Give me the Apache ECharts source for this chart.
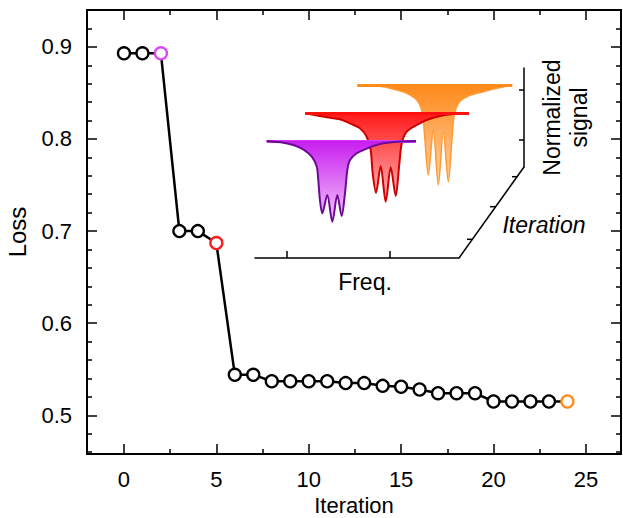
<!DOCTYPE html>
<html>
<head>
<meta charset="utf-8">
<script src="https://cdn.jsdelivr.net/npm/echarts@6/dist/echarts.min.js"></script>
<style>
  html, body { margin: 0; padding: 0; background: #fff; }
  #chart { width: 623px; height: 518px; }
</style>
</head>
<body>
<div id="chart"></div>
<script>
// main curve: loss per iteration
const iterations = [0, 1, 2, 3, 4, 5, 6, 7, 8, 9, 10, 11, 12, 13, 14, 15, 16, 17, 18, 19, 20, 21, 22, 23, 24];
const loss = [0.893, 0.893, 0.893, 0.700, 0.700, 0.687, 0.544, 0.544, 0.537, 0.537, 0.537, 0.537, 0.535,
              0.535, 0.532, 0.531, 0.528, 0.524, 0.524, 0.524, 0.515, 0.515, 0.515, 0.515, 0.515];
const highlighted = [2, 5, 24];   // iterations whose spectra are shown in the inset

const xMajor = [0, 5, 10, 15, 20, 25];
const xMinor = [2.5, 7.5, 12.5, 17.5, 22.5];
const yMajor = [0.5, 0.6, 0.7, 0.8, 0.9];
const yMinor = [0.46, 0.48, 0.52, 0.54, 0.56, 0.58, 0.62, 0.64, 0.66, 0.68, 0.72, 0.74, 0.76, 0.78, 0.82, 0.84, 0.86, 0.88, 0.92, 0.94];

// inset spectra (freq in a.u., normalized signal), front to back
const freqPurple = [0.98, 1.98, 2.57, 3.17, 3.68, 3.98, 4.07, 4.17, 4.31, 4.61, 4.91, 5.21, 5.47, 5.67, 5.81, 5.97, 6.37, 6.87, 7.37, 7.96, 8.77, 9.92];
const sigPurple  = [1.0, 0.983, 0.96, 0.917, 0.843, 0.743, 0.61, 0.41, 0.277, 0.46, 0.193, 0.46, 0.25, 0.477, 0.71, 0.81, 0.877, 0.917, 0.95, 0.977, 0.993, 1.0];
const freqRed = [0.08, 1.38, 2.17, 2.77, 3.37, 3.77, 4.01, 4.13, 4.33, 4.61, 4.91, 5.21, 5.51, 5.71, 5.87, 6.17, 6.77, 7.37, 8.16, 8.96, 9.9];
const sigRed  = [1.0, 0.96, 0.94, 0.90, 0.85, 0.766, 0.633, 0.403, 0.206, 0.473, 0.116, 0.46, 0.173, 0.466, 0.70, 0.816, 0.883, 0.933, 0.973, 0.993, 1.0];
const freqOrange = [0.06, 1.62, 2.42, 3.02, 3.51, 3.81, 3.98, 4.11, 4.31, 4.61, 4.91, 5.21, 5.51, 5.71, 5.85, 6.11, 6.61, 7.6, 8.41, 9.34];
const sigOrange  = [1.0, 0.983, 0.95, 0.917, 0.867, 0.80, 0.70, 0.45, 0.10, 0.55, 0.0, 0.533, 0.033, 0.417, 0.683, 0.817, 0.883, 0.933, 0.967, 1.0];

const FONT = '"Liberation Sans", Arial, sans-serif';
const hlColors = ['#dd44ff', '#ff1a1a', '#ff8c1a'];

const chart = echarts.init(document.getElementById('chart'), null, { renderer: 'svg' });

function frameAxis(pos, min, max, ticks, len, extra) {
    return Object.assign({
        type: 'value', position: pos, min: min, max: max, gridIndex: 0,
        splitLine: { show: false },
        axisLine: { show: true, onZero: false, lineStyle: { color: '#000', width: 2 } },
        axisTick: { show: true, inside: true, length: len, customValues: ticks, lineStyle: { color: '#000', width: 1.5 } },
        axisLabel: { show: false }
    }, extra || {});
}

// spectrum grids: shifted up-right for each later iteration
const spectra = [
    { f: freqOrange, s: sigOrange, line: '#ff9933', base: '#ff8c1a', top: '#ff8a1a', bottom: '#ffd3a8', lw: 1.5, left: 356.3, top0: 85 },
    { f: freqRed, s: sigRed, line: '#d00000', base: '#ff1010', top: '#ff1a1a', bottom: '#ffb8b8', lw: 2, left: 303.7, top0: 113.3 },
    { f: freqPurple, s: sigPurple, line: '#6c0a94', base: '#d23cff', top: '#c81ef0', bottom: '#f4c8fa', lw: 2, left: 250.3, top0: 141 }
];

const grids = [{ left: 87, right: 2, top: 10, bottom: 64, outerBoundsMode: 'none' }];
const xAxes = [
    frameAxis('bottom', -2, 26.9, xMajor, 10, {
        name: 'Iteration', nameLocation: 'middle', nameGap: 36,
        nameTextStyle: { fontFamily: FONT, fontSize: 22, lineHeight: 22, color: '#000' },
        axisLabel: { show: true, customValues: xMajor, margin: 14, fontFamily: FONT, fontSize: 22, color: '#000' }
    }),
    frameAxis('bottom', -2, 26.9, xMinor, 5),
    frameAxis('top', -2, 26.9, xMajor, 10),
    frameAxis('top', -2, 26.9, xMinor, 5)
];
const yAxes = [
    frameAxis('left', 0.458, 0.94, yMajor, 10, {
        name: 'Loss', nameLocation: 'middle', nameGap: 58, nameRotate: 90,
        nameTextStyle: { fontFamily: FONT, fontSize: 24, color: '#000' },
        axisLabel: { show: true, customValues: yMajor, margin: 15, fontFamily: FONT, fontSize: 22, color: '#000',
                     formatter: v => v.toFixed(1) }
    }),
    frameAxis('left', 0.458, 0.94, yMinor, 5),
    frameAxis('right', 0.458, 0.94, yMajor, 10),
    frameAxis('right', 0.458, 0.94, yMinor, 5)
];

const series = [{
    type: 'line',
    xAxisIndex: 0, yAxisIndex: 0,
    data: iterations.map((it, i) => {
        const k = highlighted.indexOf(it);
        const p = { value: [it, loss[i]] };
        if (k >= 0) p.itemStyle = { borderColor: hlColors[k] };
        return p;
    }),
    symbol: 'circle', symbolSize: 12, showSymbol: true,
    lineStyle: { color: '#000', width: 2.5 },
    itemStyle: { color: '#fff', borderColor: '#000', borderWidth: 2.3 },
    z: 5, silent: true, animation: false
}];

spectra.forEach((sp, i) => {
    const gi = grids.length;
    grids.push({ left: sp.left, top: sp.top0, width: 167, height: 100, outerBoundsMode: 'none' });
    const xi = xAxes.length, yi = yAxes.length;
    xAxes.push({ type: 'value', gridIndex: gi, min: 0, max: 10, show: false });
    yAxes.push({ type: 'value', gridIndex: gi, min: 0, max: 1, show: false });
    series.push({
        type: 'line', xAxisIndex: xi, yAxisIndex: yi,
        data: sp.f.map((f, j) => [f, sp.s[j]]),
        smooth: 0.3, showSymbol: false, silent: true, animation: false,
        lineStyle: { color: sp.line, width: sp.lw },
        areaStyle: {
            origin: 'end', opacity: 1,
            color: new echarts.graphic.LinearGradient(0, 0, 0, 1, [
                { offset: 0, color: sp.top }, { offset: 1, color: sp.bottom }
            ])
        },
        markLine: {
            silent: true, symbol: ['none', 'none'], animation: false,
            label: { show: false },
            lineStyle: { color: sp.base, width: 3, type: 'solid' },
            data: [[{ coord: [sp.f[0], 1] }, { coord: [sp.f[sp.f.length - 1], 1] }]]
        },
        z: 3 + i
    });
});

// inset "Freq." axis (front edge)
const gFreq = grids.length;
grids.push({ left: 255, width: 204, top: 250, height: 8, outerBoundsMode: 'none' });
xAxes.push({
    type: 'value', gridIndex: gFreq, min: 0.38, max: 4.36, position: 'bottom',
    splitLine: { show: false },
    axisLine: { show: true, onZero: false, lineStyle: { color: '#000', width: 1.5 } },
    axisTick: { show: true, inside: true, length: 7, customValues: [1, 3], lineStyle: { color: '#000', width: 1.5 } },
    axisLabel: { show: false },
    name: 'Freq.', nameLocation: 'middle', nameGap: 12,
    nameTextStyle: { fontFamily: FONT, fontSize: 23, color: '#000', padding: [0, 0, 0, 16] }
});
yAxes.push({ type: 'value', gridIndex: gFreq, show: false });

// inset "Normalized signal" axis (vertical edge)
const gSig = grids.length;
grids.push({ left: 514, width: 10, top: 68, height: 99, outerBoundsMode: 'none' });
xAxes.push({ type: 'value', gridIndex: gSig, show: false });
yAxes.push({
    type: 'value', gridIndex: gSig, min: -0.53, max: 1.42, position: 'right',
    splitLine: { show: false },
    axisLine: { show: true, onZero: false, lineStyle: { color: '#000', width: 1.5 } },
    axisTick: { show: true, inside: true, length: 5, customValues: [0, 1], lineStyle: { color: '#000', width: 1.5 } },
    axisLabel: { show: false },
    name: 'Normalized\nsignal', nameLocation: 'middle', nameGap: 14, nameRotate: 90,
    nameTextStyle: { fontFamily: FONT, fontSize: 23, color: '#000', lineHeight: 27, align: 'center' }
});

chart.setOption({
    animation: false,
    backgroundColor: '#fff',
    grid: grids,
    xAxis: xAxes,
    yAxis: yAxes,
    series: series,
    graphic: [
        // inset "Iteration" axis (depth edge)
        { type: 'polyline', silent: true, shape: { points: [[459, 258], [524, 167]] }, style: { stroke: '#000', lineWidth: 1.5, fill: null } },
        { type: 'line', silent: true, shape: { x1: 467, y1: 239.3, x2: 472.3, y2: 239.3 }, style: { stroke: '#000', lineWidth: 1.5 } },
        { type: 'line', silent: true, shape: { x1: 490, y1: 206.7, x2: 495.6, y2: 206.7 }, style: { stroke: '#000', lineWidth: 1.5 } },
        { type: 'line', silent: true, shape: { x1: 512, y1: 176.7, x2: 517.5, y2: 176.7 }, style: { stroke: '#000', lineWidth: 1.5 } },
        { type: 'text', silent: true, x: 544, y: 225,
          style: { text: 'Iteration', font: 'italic 23px ' + FONT, fill: '#000', textAlign: 'center', textVerticalAlign: 'middle' } }
    ]
});
</script>
</body>
</html>
